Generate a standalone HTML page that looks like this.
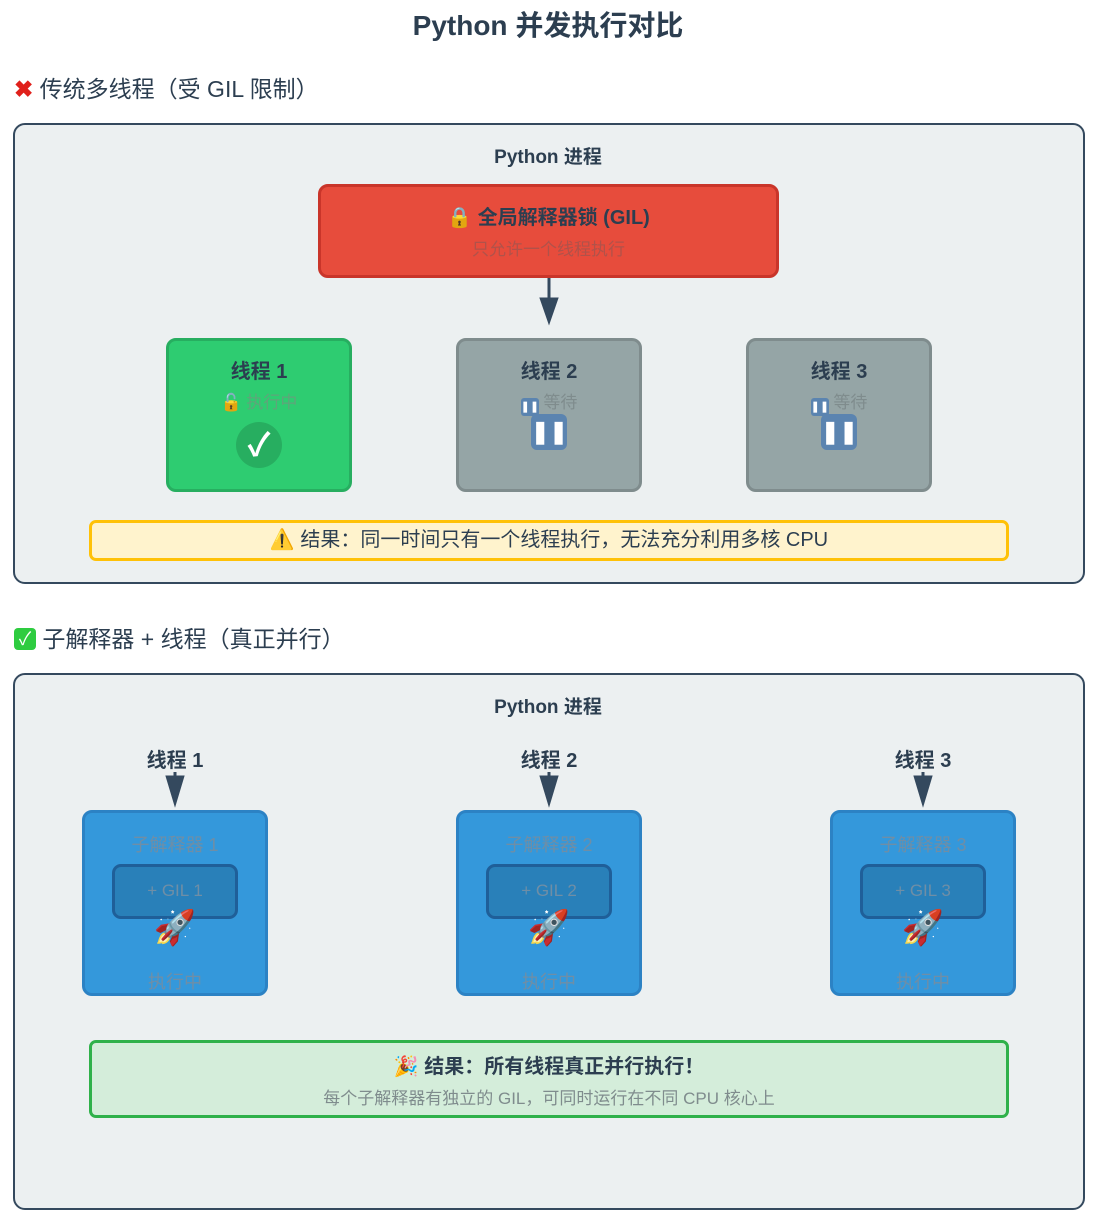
<!DOCTYPE html>
<html><head><meta charset="utf-8"><style>
body{margin:0;width:1096px;height:1215px;background:#fff;position:relative;font-family:"Liberation Sans","Noto Sans CJK SC",sans-serif;color:#2c3e50;overflow:hidden}
.a{position:absolute}
.c{position:absolute;text-align:center}
.box{position:absolute;box-sizing:border-box;border-radius:10px}
.b{font-weight:bold}
.f{color:#7f8c8d}
</style></head><body>
<div class="c b" style="left:0;width:1096px;top:4px;font-size:28px">Python 并发执行对比</div>
<div class="a" style="left:14px;top:70px;font-size:23px"><span style="color:#e0201b;font-weight:bold">✖</span> 传统多线程（受 GIL 限制）</div>
<div class="box" style="left:13px;top:123px;width:1072px;height:461px;background:#ecf0f1;border:2px solid #34495e;border-radius:12px"></div>
<div class="c b" style="left:0;width:1096px;top:142px;font-size:19px">Python 进程</div>
<div class="box" style="left:318px;top:184px;width:461px;height:94px;background:#e74c3c;border:3px solid #c9352a"></div>
<div class="c b" style="left:318px;width:461px;top:201px;font-size:20px">🔒 全局解释器锁 (GIL)</div>
<div class="c f" style="left:318px;width:461px;top:235px;font-size:17px;color:#b0524a">只允许一个线程执行</div>
<div class="box" style="left:166px;top:338px;width:186px;height:154px;background:#2ecc71;border:3px solid #27ae60"></div>
<div class="c b" style="left:166px;width:186px;top:355px;font-size:20px">线程 1</div>
<div class="c f" style="left:166px;width:186px;top:388px;font-size:17px;color:#5fa57a">🔓 执行中</div>
<div class="a" style="left:236px;top:422px;width:46px;height:46px;border-radius:50%;background:#27ae60;color:#fff;text-align:center;line-height:46px;font-size:32px;font-weight:bold">✓</div>
<div class="box" style="left:456px;top:338px;width:186px;height:154px;background:#95a5a6;border:3px solid #7f8c8d"></div>
<div class="c b" style="left:456px;width:186px;top:355px;font-size:20px">线程 2</div>
<div class="c" style="left:456px;width:186px;top:388px;font-size:17px;color:#7f8c8d"><span style="display:inline-block;width:18px;height:18px;background:#5b84b0;border-radius:3px;color:#fff;font-size:11px;line-height:18px;vertical-align:-2px">❚❚</span> 等待</div>
<div class="a" style="left:531px;top:414px;width:36px;height:36px;border-radius:6px;background:#5b84b0;color:#fff;text-align:center;line-height:36px;font-size:22px;font-weight:bold">❚❚</div>
<div class="box" style="left:746px;top:338px;width:186px;height:154px;background:#95a5a6;border:3px solid #7f8c8d"></div>
<div class="c b" style="left:746px;width:186px;top:355px;font-size:20px">线程 3</div>
<div class="c" style="left:746px;width:186px;top:388px;font-size:17px;color:#7f8c8d"><span style="display:inline-block;width:18px;height:18px;background:#5b84b0;border-radius:3px;color:#fff;font-size:11px;line-height:18px;vertical-align:-2px">❚❚</span> 等待</div>
<div class="a" style="left:821px;top:414px;width:36px;height:36px;border-radius:6px;background:#5b84b0;color:#fff;text-align:center;line-height:36px;font-size:22px;font-weight:bold">❚❚</div>
<div class="box" style="left:89px;top:520px;width:920px;height:41px;background:#fff3cd;border:3px solid #ffc107;border-radius:7px"></div>
<div class="c" style="left:89px;width:920px;top:528px;font-size:20px;line-height:24px">⚠️ 结果：同一时间只有一个线程执行，无法充分利用多核 CPU</div>

<div class="a" style="left:14px;top:620px;font-size:23px"><span style="display:inline-block;width:22px;height:22px;background:#2ecc40;border-radius:4px;color:#fff;text-align:center;line-height:22px;font-size:18px;vertical-align:2px">✓</span> 子解释器 + 线程（真正并行）</div>
<div class="box" style="left:13px;top:673px;width:1072px;height:537px;background:#ecf0f1;border:2px solid #34495e;border-radius:12px"></div>
<div class="c b" style="left:0;width:1096px;top:692px;font-size:19px">Python 进程</div>
<div class="c b" style="left:100px;width:150px;top:744px;font-size:20px">线程 1</div>
<div class="c b" style="left:474px;width:150px;top:744px;font-size:20px">线程 2</div>
<div class="c b" style="left:848px;width:150px;top:744px;font-size:20px">线程 3</div>

<div class="box" style="left:82px;top:810px;width:186px;height:186px;background:#3498db;border:3px solid #2c82c4"></div>
<div class="c" style="left:82px;width:186px;top:831px;font-size:18px;color:#6f8ea6">子解释器 1</div>
<div class="box" style="left:112px;top:864px;width:126px;height:55px;background:#2980b9;border:3px solid #1f5f99;border-radius:9px"></div>
<div class="c" style="left:112px;width:126px;top:881px;font-size:17px;color:#6f8ea6">+ GIL 1</div>
<div class="c" style="left:82px;width:186px;top:908px;font-size:34px">🚀</div>
<div class="c" style="left:82px;width:186px;top:968px;font-size:18px;color:#6f8ea6">执行中</div>

<div class="box" style="left:456px;top:810px;width:186px;height:186px;background:#3498db;border:3px solid #2c82c4"></div>
<div class="c" style="left:456px;width:186px;top:831px;font-size:18px;color:#6f8ea6">子解释器 2</div>
<div class="box" style="left:486px;top:864px;width:126px;height:55px;background:#2980b9;border:3px solid #1f5f99;border-radius:9px"></div>
<div class="c" style="left:486px;width:126px;top:881px;font-size:17px;color:#6f8ea6">+ GIL 2</div>
<div class="c" style="left:456px;width:186px;top:908px;font-size:34px">🚀</div>
<div class="c" style="left:456px;width:186px;top:968px;font-size:18px;color:#6f8ea6">执行中</div>

<div class="box" style="left:830px;top:810px;width:186px;height:186px;background:#3498db;border:3px solid #2c82c4"></div>
<div class="c" style="left:830px;width:186px;top:831px;font-size:18px;color:#6f8ea6">子解释器 3</div>
<div class="box" style="left:860px;top:864px;width:126px;height:55px;background:#2980b9;border:3px solid #1f5f99;border-radius:9px"></div>
<div class="c" style="left:860px;width:126px;top:881px;font-size:17px;color:#6f8ea6">+ GIL 3</div>
<div class="c" style="left:830px;width:186px;top:908px;font-size:34px">🚀</div>
<div class="c" style="left:830px;width:186px;top:968px;font-size:18px;color:#6f8ea6">执行中</div>

<div class="box" style="left:89px;top:1040px;width:920px;height:78px;background:#d4edda;border:3px solid #2fb14a;border-radius:7px"></div>
<div class="c b" style="left:89px;width:920px;top:1050px;font-size:20px">🎉 结果：所有线程真正并行执行！</div>
<div class="c" style="left:89px;width:920px;top:1084px;font-size:17px;color:#7f8c8d">每个子解释器有独立的 GIL，可同时运行在不同 CPU 核心上</div>

<svg class="a" style="left:0;top:0" width="1096" height="1215">
<g fill="#34495e" stroke="#34495e" stroke-width="3">
<line x1="549" y1="278" x2="549" y2="300"/><polygon points="540,298 558,298 549,324" stroke-width="1"/>
<line x1="175" y1="772" x2="175" y2="782"/><polygon points="166,776 184,776 175,806" stroke-width="1"/>
<line x1="549" y1="772" x2="549" y2="782"/><polygon points="540,776 558,776 549,806" stroke-width="1"/>
<line x1="923" y1="772" x2="923" y2="782"/><polygon points="914,776 932,776 923,806" stroke-width="1"/>
</g></svg>
</body></html>
